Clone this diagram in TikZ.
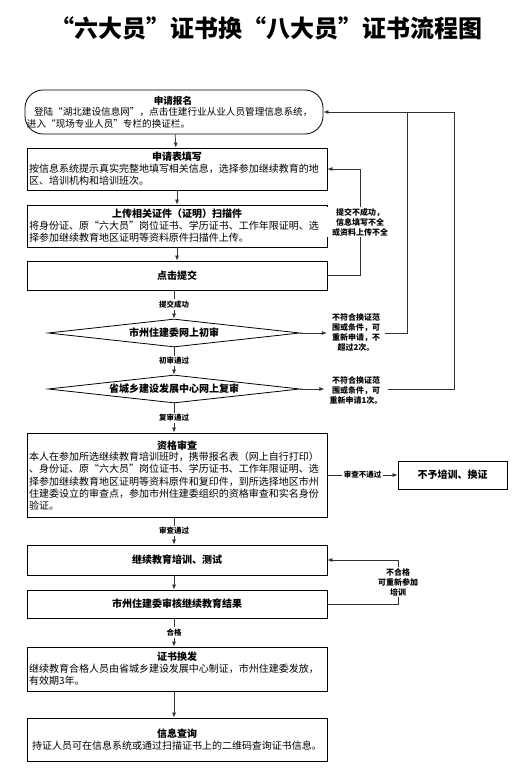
\documentclass[tikz,border=0pt]{standalone}
\usepackage{fontspec}
\setmainfont{Noto Sans CJK SC}
\usetikzlibrary{shapes.geometric,arrows.meta}
\begin{document}
\begin{tikzpicture}[x=1pt,y=-1pt,
  box/.style={draw=black,line width=0.8pt,minimum width=300pt,text width=296pt,
    inner xsep=2pt,inner ysep=0pt,align=left,font=\fontsize{10}{12}\selectfont},
  dia/.style={draw=black,line width=0.8pt,shape=diamond,aspect=9,inner sep=0pt,
    minimum width=252pt,minimum height=28pt,font=\bfseries\fontsize{10}{12}\selectfont},
  lbl/.style={fill=white,inner sep=1.5pt,font=\bfseries\fontsize{7.5}{9}\selectfont},
  side/.style={fill=white,inner xsep=5pt,inner ysep=1pt,align=center,font=\bfseries\fontsize{8}{10}\selectfont},
  conn/.style={draw=black!80,line width=0.7pt},
  arr/.style={conn,-{Latex[length=5pt,width=4pt]}},
]
\useasboundingbox[fill=white] (0,0) rectangle (530,784);

\node[font=\bfseries\fontsize{24}{24}\selectfont] (title) at (266,28) {“六大员”证书换“八大员”证书流程图};

\node[box,rounded corners=18pt,minimum width=296pt,minimum height=44pt,text width=294pt,
  font=\fontsize{9.6}{11.5}\selectfont] (b1) at (174,112)
  {\makebox[292pt]{\bfseries 申请报名}\\\hspace*{7pt}登陆“湖北建设信息网”，点击住建行业从业人员管理信息系统，\\进入“现场专业人员”专栏的换证栏。};

\node[box,minimum height=42pt] (b2) at (177,169)
  {\makebox[296pt]{\bfseries 申请表填写}\\按信息系统提示真实完整地填写相关信息，选择参加继续教育的地\\区、培训机构和培训班次。};

\node[box,minimum height=42pt] (b3) at (177,226)
  {\makebox[296pt]{\bfseries 上传相关证件（证明）扫描件}\\将身份证、原“六大员”岗位证书、学历证书、工作年限证明、选\\择参加继续教育地区证明等资料原件扫描件上传。};

\node[box,minimum height=29pt] (b4) at (177,275.5)
  {\makebox[296pt]{\bfseries 点击提交}};

\node[dia] (d1) at (174,333) {市州住建委网上初审};
\node[dia] (d2) at (174,389) {省城乡建设发展中心网上复审};

\node[box,minimum height=84pt] (b5) at (177,475)
  {\makebox[296pt]{\bfseries 资格审查}\\本人在参加所选继续教育培训班时，携带报名表（网上自行打印）\\、身份证、原“六大员”岗位证书、学历证书、工作年限证明、选\\择参加继续教育地区证明等资料原件和复印件，到所选择地区市州\\住建委设立的审查点，参加市州住建委组织的资格审查和实名身份\\验证。\\[2pt]};

\node[box,minimum width=109pt,text width=105pt,minimum height=28pt,align=center,font=\bfseries\fontsize{10}{12}\selectfont] (b10) at (452.5,475) {不予培训、换证};

\node[box,minimum height=30pt] (b6) at (177,560)
  {\makebox[296pt]{\bfseries 继续教育培训、测试}};
\node[box,minimum height=28pt] (b7) at (177,604)
  {\makebox[296pt]{\bfseries 市州住建委审核继续教育结果}};

\node[box,minimum height=44pt] (b8) at (177,669)
  {\makebox[296pt]{\bfseries 证书换发}\\继续教育合格人员由省城乡建设发展中心制证，市州住建委发放，\\有效期3年。};

\node[box,minimum height=43pt] (b9) at (177,739.5)
  {\makebox[296pt]{\bfseries 信息查询}\\\makebox[296pt]{持证人员可在信息系统或通过扫描证书上的二维码查询证书信息。}};

% side labels
\node[side] (L0) at (360,222) {提交不成功，\\信息填写不全\\或资料上传不全};
\node[side] (L1) at (356,332) {不符合换证范\\围或条件，可\\重新申请，不\\超过2次。};
\node[side] (L2) at (356,390) {不符合换证范\\围或条件，可\\重新申请1次。};
\node[side,inner xsep=2pt] (L3) at (398,582) {不合格\\可重新参加\\培训};

\coordinate (j1) at (407,112);
\coordinate (j2) at (454,112);

% main vertical flow
\draw[arr] (b1) -- (b2);
\draw[arr] (b2) -- (b3);
\draw[arr] (b3) -- (b4);
\draw[arr] (b4.south -| d1.north) -- node[lbl]{提交成功} (d1.north);
\draw[arr] (d1) -- node[lbl]{初审通过} (d2);
\draw[arr] (d2.south) -- node[lbl]{复审通过} (d2.south |- b5.north);
\draw[arr] (b5.south -| d2.south) -- node[lbl]{审查通过} (d2.south |- b6.north);
\draw[arr] (b6.south -| d2.south) -- (d2.south |- b7.north);
\draw[arr] (b7.south -| d2.south) -- node[lbl]{合格} (d2.south |- b8.north);
\draw[arr] (b8.south -| d2.south) -- (d2.south |- b9.north);

% feedback loops
\draw[conn] (b4.east) -| (L0.south);
\draw[arr] (L0.north) |- (b2.east);

\draw[arr] (d1.east) -- (d1.east -| L1.west);
\draw[conn] (d1.east -| L1.east) -| (j1);
\draw[arr] (j1) -- (b1.east);

\draw[arr] (d2.east) -- (d2.east -| L2.west);
\draw[conn] (d2.east -| L2.east) -| (j2) -- (j1);

\draw[arr] (b5.east) -- node[lbl]{审查不通过} (b10.west);

\draw[conn] (b7.east) -| (L3.south);
\draw[arr] (L3.north) |- (b6.east);
\end{tikzpicture}
\end{document}
